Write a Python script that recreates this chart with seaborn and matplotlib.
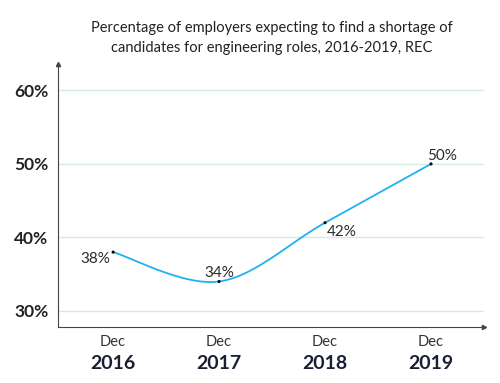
"""
REC engineering shortage chart, Dec 2016-2019
"""
import matplotlib
matplotlib.use('Agg')
import matplotlib.pyplot as plt
import seaborn as sns
import pandas as pd
import numpy as np

# data
years = ['2016', '2017', '2018', '2019']
months = ['Dec', 'Dec', 'Dec', 'Dec']
shortage = [38, 34, 42, 50]
yticks = [30, 40, 50, 60]

sns.set_theme(style='white')
plt.rcParams['font.family'] = ['Lato', 'DejaVu Sans']

line_col = '#1fb2f0'
grid_col = '#d4ebe5'
axis_col = '#444444'


def catmull_rom(x, y, n=50):
    # smoothed line like the office "smooth line" option, drawing only
    x = np.asarray(x, float)
    y = np.asarray(y, float)
    xp = np.concatenate([[x[0]], x, [x[-1]]])
    yp = np.concatenate([[y[0]], y, [y[-1]]])
    xs, ys = [], []
    for i in range(1, len(xp) - 2):
        p0x, p1x, p2x, p3x = xp[i - 1:i + 3]
        p0y, p1y, p2y, p3y = yp[i - 1:i + 3]
        # bezier control points
        c1x, c1y = p1x + (p2x - p0x) / 6, p1y + (p2y - p0y) / 6
        c2x, c2y = p2x - (p3x - p1x) / 6, p2y - (p3y - p1y) / 6
        t = np.linspace(0, 1, n)
        b0, b1, b2, b3 = (1 - t) ** 3, 3 * t * (1 - t) ** 2, 3 * t ** 2 * (1 - t), t ** 3
        xs.append(b0 * p1x + b1 * c1x + b2 * c2x + b3 * p2x)
        ys.append(b0 * p1y + b1 * c1y + b2 * c2y + b3 * p2y)
    return np.concatenate(xs), np.concatenate(ys)


pos = np.arange(len(years))
df = pd.DataFrame({'pos': pos, 'value': shortage})
sx, sy = catmull_rom(pos, shortage)
smooth = pd.DataFrame({'pos': sx, 'value': sy})

fig = plt.figure(figsize=(5, 3.83), dpi=100)
ax = fig.add_axes([0.116, 0.146, 0.852, 0.687])

for v in yticks:
    ax.axhline(v, color=grid_col, lw=1, zorder=0)

sns.lineplot(data=smooth, x='pos', y='value', color=line_col, lw=1.3,
             sort=False, estimator=None, ax=ax)
sns.scatterplot(data=df, x='pos', y='value', color='black', s=5,
                edgecolor='none', ax=ax, zorder=3)

# data labels
offsets = [(-2, -5, 'right', 'center'), (0, 1, 'center', 'bottom'),
           (1, -2, 'left', 'top'), (-3, 1, 'left', 'bottom')]
for p, v, (dx, dy, ha, va) in zip(pos, shortage, offsets):
    ax.annotate('%d%%' % v, (p, v), xytext=(dx, dy), textcoords='offset points',
                ha=ha, va=va, fontsize=11, color='#2a2a2a')

ax.set_xlim(-0.52, 3.5)
ax.set_ylim(27.8, 63.6)
ax.set_yticks(yticks)
ax.set_yticklabels(['%d%%' % v for v in yticks], fontsize=12.5,
                   fontweight='bold', color='#222222')
ax.set_xticks(pos)
ax.set_xticklabels(months, fontsize=10.5, color='#333333')
for p, yr in zip(pos, years):
    ax.text(p, -0.105, yr, transform=ax.get_xaxis_transform(), ha='center',
            va='top', fontsize=14, fontweight='bold', color='#1a1f33')
ax.set(xlabel='', ylabel='')

ax.tick_params(axis='x', length=3, width=0.8, color=axis_col, pad=3)
ax.tick_params(axis='y', length=3, width=0.8, color=axis_col, pad=4)

sns.despine(ax=ax)
for s in ['left', 'bottom']:
    ax.spines[s].set_linestyle((0, (1, 1)))
    ax.spines[s].set_color(axis_col)
    ax.spines[s].set_linewidth(0.8)
ax.plot(0, 1, '^', ms=3, color=axis_col, transform=ax.transAxes, clip_on=False)
ax.plot(1, 0, '>', ms=3, color=axis_col, transform=ax.transAxes, clip_on=False)

fig.text(0.544, 0.90, 'Percentage of employers expecting to find a shortage of\n'
         'candidates for engineering roles, 2016-2019, REC',
         ha='center', va='center', fontsize=10.5, color='#222222',
         linespacing=1.55)

fig.savefig('out.png', dpi=100, facecolor='white')
